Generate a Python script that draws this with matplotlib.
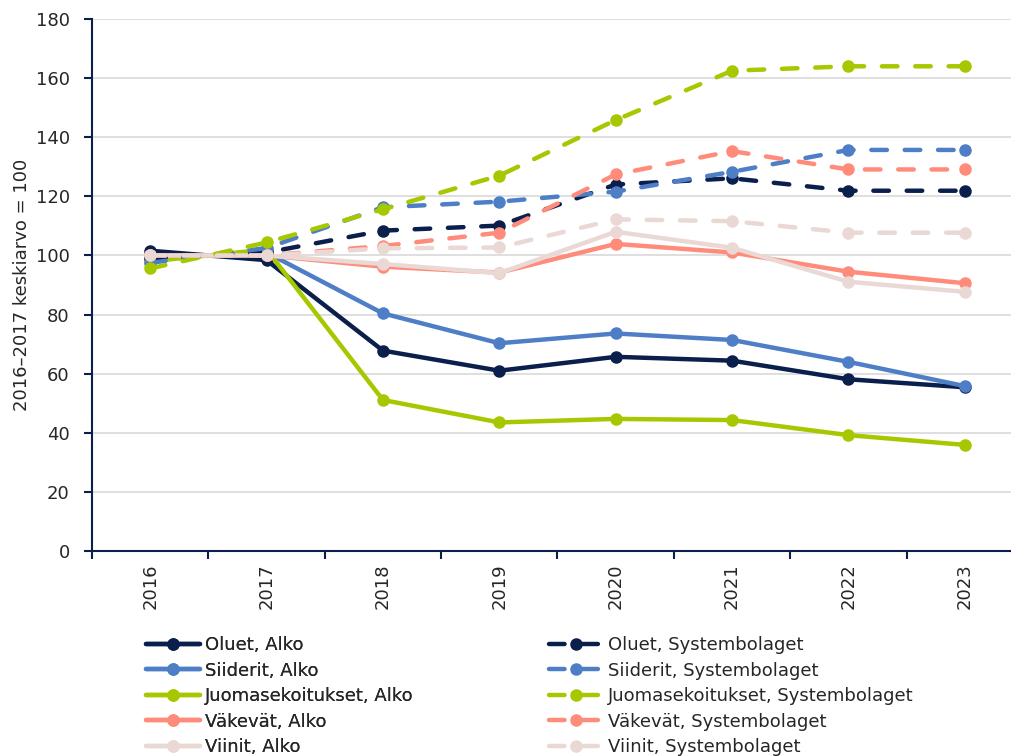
import matplotlib.pyplot as plt
from matplotlib.ticker import FixedLocator

plt.rcParams['font.family'] = ['DejaVu Sans']

years = ['2016', '2017', '2018', '2019', '2020', '2021', '2022', '2023']

oluet_alko = [101.6, 98.4, 67.8, 61.0, 65.7, 64.4, 58.1, 55.4]
siiderit_alko = [99.0, 101.0, 80.4, 70.3, 73.6, 71.4, 64.0, 55.8]
juoma_alko = [98.0, 102.0, 51.1, 43.5, 44.7, 44.3, 39.2, 35.9]
vakevat_alko = [100.0, 100.0, 96.2, 94.2, 103.9, 101.0, 94.5, 90.6]
viinit_alko = [100.0, 100.0, 97.1, 94.0, 108.0, 102.6, 91.1, 87.7]

oluet_sys = [99.0, 101.0, 108.4, 110.1, 124.0, 126.1, 121.9, 121.9]
siiderit_sys = [97.5, 102.5, 116.3, 118.2, 121.6, 128.3, 135.7, 135.7]
juoma_sys = [95.6, 104.4, 115.6, 127.0, 145.8, 162.5, 164.0, 164.0]
vakevat_sys = [100.0, 100.0, 103.2, 107.7, 127.4, 135.3, 129.1, 129.1]
viinit_sys = [100.0, 100.0, 102.4, 102.7, 112.2, 111.6, 107.7, 107.7]

navy = '#0B1F4D'
blue = '#4E7EC6'
green = '#A6C800'
salmon = '#FF8C7B'
light = '#EAD8D5'
txt = '#262626'

fig = plt.figure(figsize=(10.12, 7.56), dpi=100)
ax = fig.add_axes([92 / 1012, 205 / 756, 931 / 1012, 532 / 756])

x = range(len(years))
alko = [('Oluet', oluet_alko, navy), ('Siiderit', siiderit_alko, blue),
        ('Juomasekoitukset', juoma_alko, green), ('Väkevät', vakevat_alko, salmon),
        ('Viinit', viinit_alko, light)]
syst = [('Oluet', oluet_sys, navy), ('Siiderit', siiderit_sys, blue),
        ('Juomasekoitukset', juoma_sys, green), ('Väkevät', vakevat_sys, salmon),
        ('Viinit', viinit_sys, light)]

h_alko = []
for name, vals, c in alko:
    h, = ax.plot(x, vals, color=c, lw=3.2, marker='o', ms=8, label=f'{name}, Alko',
                 solid_capstyle='round', zorder=3)
    h_alko.append(h)
h_sys = []
for name, vals, c in syst:
    h, = ax.plot(x, vals, color=c, lw=3.2, ls=(0, (3.5, 4.0)), marker='o', ms=8,
                 label=f'{name}, Systembolaget', dash_capstyle='round', zorder=3)
    h_sys.append(h)

ax.set_xlim(-0.5, 7.5)
ax.set_ylim(0, 180)
ax.set_yticks(range(0, 181, 20))
ax.grid(axis='y', color='#D9D9D9', lw=1.2)
ax.set_axisbelow(True)

ax.set_xticks(list(x))
ax.set_xticklabels(years, rotation=90, fontsize=13, color=txt)
ax.xaxis.set_minor_locator(FixedLocator([i - 0.5 for i in range(9)]))
ax.tick_params(axis='x', which='major', length=0, pad=9)
ax.tick_params(axis='x', which='minor', length=6, width=1.5, color=navy)
ax.tick_params(axis='y', length=6, width=1.5, color=navy, labelsize=13,
               labelcolor=txt, pad=10)

for s in ['top', 'right']:
    ax.spines[s].set_visible(False)
for s in ['left', 'bottom']:
    ax.spines[s].set_color(navy)
    ax.spines[s].set_linewidth(1.5)

ax.set_ylabel('2016–2017 keskiarvo = 100', fontsize=13, color=txt, labelpad=3)

leg_kw = dict(loc='upper left', frameon=False, fontsize=13, handlelength=3.0,
              handletextpad=0.25, labelspacing=0.42, borderpad=0, borderaxespad=0,
              labelcolor=txt)
leg1 = fig.legend(handles=h_alko, bbox_to_anchor=(146 / 1012, 1 - 636 / 756), **leg_kw)
fig.add_artist(leg1)
fig.legend(handles=h_sys, bbox_to_anchor=(549 / 1012, 1 - 636 / 756), **leg_kw)

fig.savefig('out.png', dpi=100)
